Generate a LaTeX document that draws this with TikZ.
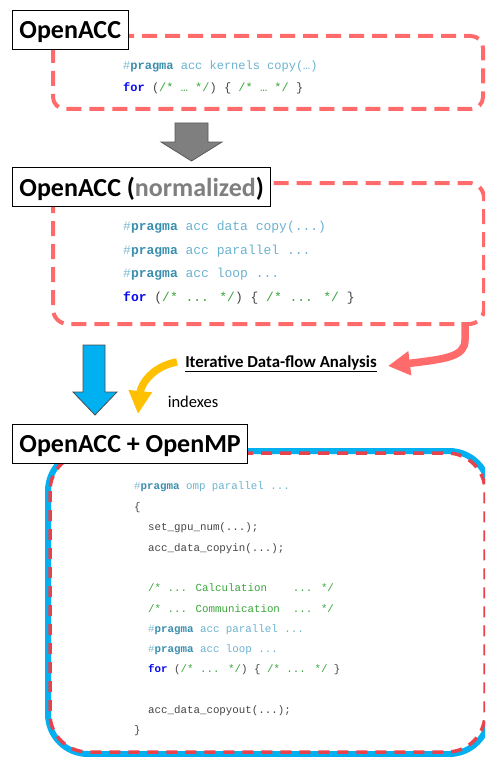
\documentclass[tikz,border=0pt]{standalone}
\usepackage{fontspec}
\setmainfont{Carlito}
\newfontfamily\codefont{Liberation Mono}
\usetikzlibrary{arrows.meta}

\definecolor{salmon}{HTML}{FF6B6B}
\definecolor{crimson}{HTML}{E8424C}
\definecolor{skyblue}{HTML}{00B0F0}
\definecolor{amber}{HTML}{FFC000}
\definecolor{hashcol}{HTML}{7FBBD0}
\definecolor{pragcol}{HTML}{3A8EAD}
\definecolor{acccol}{HTML}{6BB2CE}
\definecolor{forcol}{HTML}{0A0AF0}
\definecolor{comcol}{HTML}{3AA53A}
\definecolor{plaincol}{HTML}{444444}
\definecolor{normgray}{HTML}{7F7F7F}

% code fragments
\newcommand{\prag}{\textcolor{hashcol}{\#}\textcolor{pragcol}{\bfseries pragma}}
\newcommand{\kwfor}{\textcolor{forcol}{\bfseries for}}
\newcommand{\cmt}[1]{\textcolor{comcol}{#1}}
\newcommand{\acc}[1]{\textcolor{acccol}{#1}}

\tikzset{
  titlebox/.style={draw=black, line width=0.9pt, fill=white, anchor=west,
    font=\fontsize{26}{30}\selectfont\bfseries, inner xsep=7pt,
    minimum height=39pt, text depth=0pt},
  codeA/.style={anchor=base west, inner sep=0pt, text=plaincol,
    font=\codefont\fontsize{12}{14}\selectfont},
  codeB/.style={anchor=base west, inner sep=0pt, text=plaincol,
    font=\codefont\fontsize{13}{15}\selectfont},
  codeC/.style={anchor=base west, inner sep=0pt, text=plaincol,
    font=\codefont\fontsize{10.8}{13}\selectfont},
  dashframe/.style={draw=salmon, line width=4pt, dash pattern=on 15pt off 8pt},
  blockarrow/.style={line width=0.8pt, line join=miter},
}

\begin{document}
\begin{tikzpicture}[x=1pt,y=-1pt]
\useasboundingbox (0,0) rectangle (485,757);
\clip (0,0) rectangle (485,757);

% ---------- stage 1: OpenACC ----------
\draw[dashframe, rounded corners=12pt] (53,36) rectangle (483,109);
\node[titlebox] (t1) at (12,30) {OpenACC};
\node[codeA] (c1a) at (123,70) {\prag\ \acc{acc kernels copy(…)}};
\node[codeA] (c1b) at (123,92) {\kwfor\ (\cmt{/* … */}) \{ \cmt{/* … */} \}};

% gray block arrow
\filldraw[blockarrow, fill=normgray, draw=black!65]
  (175,123) -- (208,123) -- (208,142) -- (222,142) -- (191.5,161)
  -- (161,142) -- (175,142) -- cycle;

% ---------- stage 2: normalized ----------
\draw[dashframe, rounded corners=15pt] (53,183) rectangle (484,324);
\node[titlebox] (t2) at (12,187) {OpenACC (\textcolor{normgray}{normalized})};
\node[codeB] (c2a) at (123,230) {\prag\ \acc{acc data copy(...)}};
\node[codeB] (c2b) at (123,254) {\prag\ \acc{acc parallel ...}};
\node[codeB] (c2c) at (123,277) {\prag\ \acc{acc loop ...}};
\node[codeB] (c2d) at (123,301) {\kwfor\ (\cmt{/* ... */}) \{ \cmt{/* ... */} \}};

% analysis step
\node[font=\fontsize{16.8}{19}\selectfont\bfseries, inner sep=0pt] (ana) at (281,364)
  {\underline{Iterative Data-flow Analysis}};
\node[font=\fontsize{16.5}{19}\selectfont, inner sep=0pt] (idx) at (193,402) {indexes};

\coordinate (rs) at (465,322);
\coordinate (rt) at (388,366);
\draw[salmon, line width=7.5pt, -{Triangle[length=22pt,width=23pt]}]
  (rs) -- (465,340) .. controls (465,357) and (445,359) .. (rt);

\coordinate (ys) at (177,362);
\coordinate (yt) at (138,414);
\draw[amber, line width=7.5pt, -{Triangle[length=23pt,width=22pt]}]
  (ys) .. controls (153,366) and (141,384) .. (yt);

% blue block arrow
\filldraw[blockarrow, fill=skyblue, draw=black!70]
  (83,345) -- (105,345) -- (105,392) -- (117,392) -- (95,415)
  -- (73,392) -- (83,392) -- cycle;

% ---------- stage 3: OpenACC + OpenMP ----------
\draw[skyblue, line width=6pt, rounded corners=40pt] (48,451) rectangle (489,754);
\draw[crimson, line width=3.5pt, dash pattern=on 11pt off 8pt, rounded corners=38pt]
  (50,453) rectangle (485,752);
\node[titlebox] (t3) at (12,444) {OpenACC + OpenMP};

\node[codeC] (k1) at (134,489) {\prag\ \acc{omp parallel ...}};
\node[codeC] (k2) at (134,510) {\{};
\node[codeC] (k3) at (148,530) {set\_gpu\_num(...);};
\node[codeC] (k4) at (148,551) {acc\_data\_copyin(...);};
\node[codeC] (k5) at (148,591) {\cmt{/* ... Calculation\ \ \ \ ... */}};
\node[codeC] (k6) at (148,612) {\cmt{/* ... Communication\ \ ... */}};
\node[codeC] (k7) at (148,632) {\prag\ \acc{acc parallel ...}};
\node[codeC] (k8) at (148,652) {\prag\ \acc{acc loop ...}};
\node[codeC] (k9) at (148,672) {\kwfor\ (\cmt{/* ... */}) \{ \cmt{/* ... */} \}};
\node[codeC] (k10) at (148,713) {acc\_data\_copyout(...);};
\node[codeC] (k11) at (134,733) {\}};
\end{tikzpicture}
\end{document}
